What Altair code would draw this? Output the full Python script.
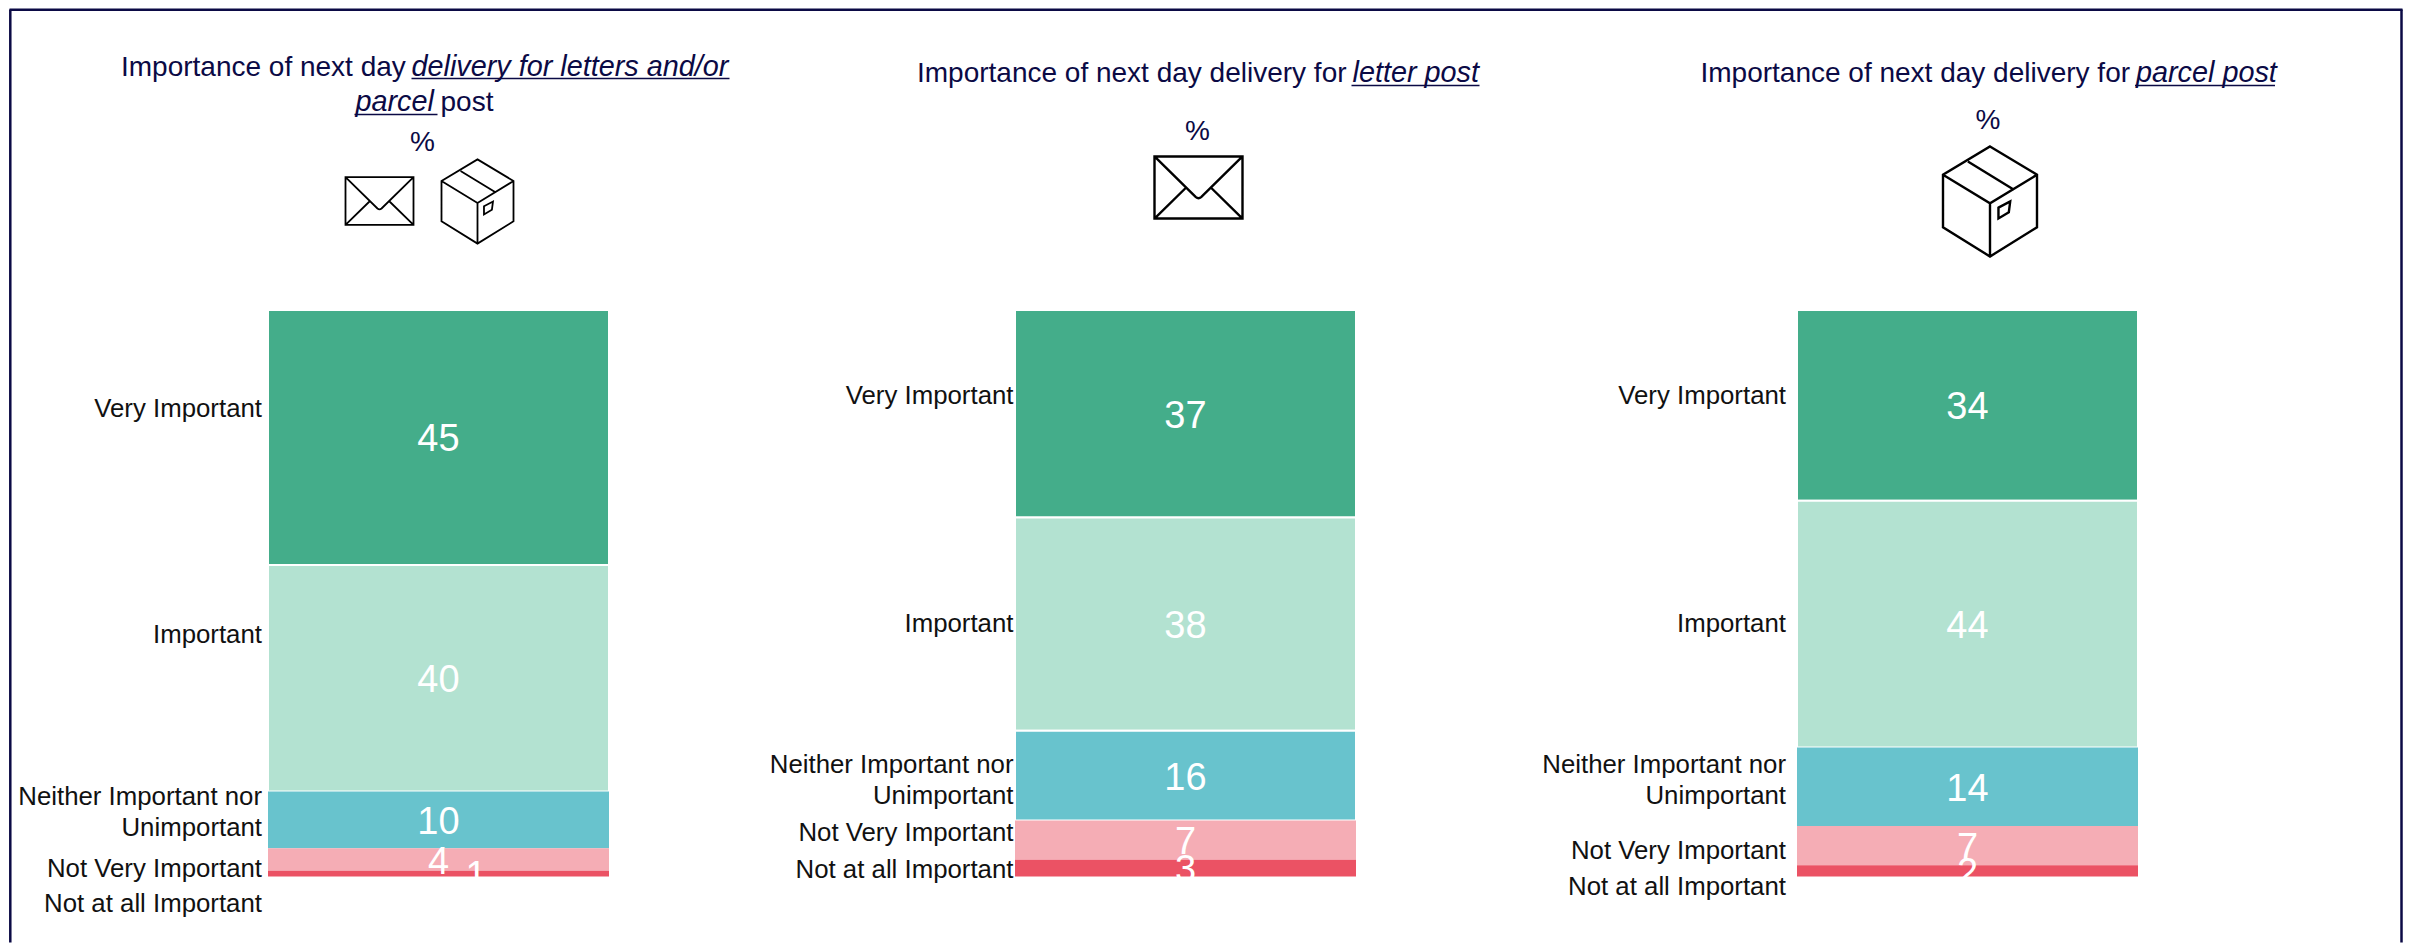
import altair as alt
import pandas as pd

# ---- chart values ----
CATEGORIES = ["Very Important", "Important", "Neither Important nor\nUnimportant",
              "Not Very Important", "Not at all Important"]
COLORS = ["#44ad8a", "#b3e2d1", "#68c3cd", "#f5adb5", "#eb5264"]
VALUES_ALL = [45, 40, 10, 4, 1]
VALUES_LETTER = [37, 38, 16, 7, 3]
VALUES_PARCEL = [34, 44, 14, 7, 2]
# where each category caption's first line sits, in the units of the panel's value axis
CAPTION_ALL = [17.4, 57.3, 86.0, 98.6, 104.8]
CAPTION_LETTER = [15.4, 55.9, 81.1, 93.3, 99.8]
CAPTION_PARCEL = [15.4, 55.9, 81.1, 96.5, 102.8]
# horizontal nudge of the value label, as a share of the bar width
NUDGE_ALL = [0, 0, 0, 0, 0.11]
NUDGE_NONE = [0, 0, 0, 0, 0]
OUTLINED = [2, 3, 2]

# ---- layout (absolute page pixels) ----
BAR_TOP = 309.5
BAR_W = 341
BAR_H = 566.5
BAR_LEFT = [267.5, 1014.5, 1796]
PANEL_W = [BAR_LEFT[1] - BAR_LEFT[0], BAR_LEFT[2] - BAR_LEFT[1], BAR_W]
CAPTION_GAP = [6, 1.5, 11]
NAVY = "#0b0a45"
FONT = "Liberation Sans"
TITLE_SIZE = 28
ITALIC_SIZE = 28.8


def blank():
    return alt.Chart(alt.Data(values=[{}]))


def txt(p, s, x, y, italic=False, align="left"):
    return blank().mark_text(
        text=s, font=FONT, fontSize=ITALIC_SIZE if italic else TITLE_SIZE, color=NAVY, align=align,
        baseline="alphabetic", fontStyle="italic" if italic else "normal",
    ).encode(x=alt.value(x - BAR_LEFT[p]), y=alt.value(y - BAR_TOP))


def underline(p, x0, x1, y):
    return blank().mark_rule(color=NAVY, strokeWidth=1.6).encode(
        x=alt.value(x0 - BAR_LEFT[p]), x2=alt.value(x1 - BAR_LEFT[p]), y=alt.value(y - BAR_TOP))


ENVELOPE = ("M-1 -0.705 L1 -0.705 L1 0.705 L-1 0.705 Z "
            "M-1 -0.705 L-0.06 0.22 Q0 0.27 0.06 0.22 L1 -0.705 "
            "M-1 0.705 L-0.28 0 M1 0.705 L0.28 0")
BOX = ("M0 -1.17 L1 -0.57 L1 0.55 L0 1.17 L-1 0.55 L-1 -0.57 Z "
       "M-1 -0.57 L0 0.04 L1 -0.57 M0 0.04 L0 1.17 "
       "M-0.47 -0.85 L0.51 -0.25 "
       "M0.18 0.13 L0.43 0 L0.40 0.23 L0.18 0.36 Z")


def icon(p, shape, cx, cy, half, sw):
    return blank().mark_point(
        shape=shape, size=(2 * half) ** 2, filled=False, stroke="black",
        strokeWidth=sw, opacity=1,
    ).encode(x=alt.value(cx - BAR_LEFT[p]), y=alt.value(cy - BAR_TOP))


def panel(p, values, captions, nudges, extras):
    total = sum(values)
    df = pd.DataFrame({
        "cat": CATEGORIES, "value": values, "rank": range(5),
        "caption": captions, "nudge": nudges, "color": COLORS,
    })
    base = alt.Chart(df).transform_stack(
        stack="value", groupby=[], sort=[alt.SortField("rank")], as_=["y0", "y1"],
    ).transform_calculate(
        mid="(datum.y0 + datum.y1) / 2", x0="0", x1="1", lx="0.5 + datum.nudge",
    )
    yscale = alt.Scale(domain=[0, total], reverse=True, nice=False, zero=False)
    # bar spans 0..1; the rest of the panel's width is the gap to the next panel
    xscale = alt.Scale(domain=[0, PANEL_W[p] / BAR_W], nice=False, zero=False)
    bars = base.mark_rect(strokeWidth=2).encode(
        x=alt.X("x0:Q", scale=xscale, axis=None),
        x2="x1:Q",
        y=alt.Y("y0:Q", scale=yscale, axis=None),
        y2="y1:Q",
        fill=alt.Fill("color:N", scale=None),
        stroke=alt.condition(f"datum.rank < {OUTLINED[p]}", alt.value("white"), alt.value("transparent")),
    )
    nums = base.mark_text(font=FONT, fontSize=38, color="white", align="center", baseline="middle", dy=3).encode(
        x=alt.X("lx:Q", scale=xscale, axis=None),
        y=alt.Y("mid:Q", scale=yscale, axis=None),
        text="value:Q",
    )
    caps = base.mark_text(font=FONT, fontSize=25.8, color="#111111", align="right", baseline="middle",
                          lineBreak="\n", lineHeight=31).encode(
        x=alt.value(-CAPTION_GAP[p]),
        y=alt.Y("caption:Q", scale=yscale, axis=None),
        text="cat:N",
    )
    return alt.layer(bars, nums, caps, *extras).properties(width=PANEL_W[p], height=BAR_H)


def vline(p, x):
    return blank().mark_rule(color=NAVY, strokeWidth=2.5).encode(
        x=alt.value(x - BAR_LEFT[p]), y=alt.value(8 - BAR_TOP + 1), y2=alt.value(942 - BAR_TOP))


frame = [
    vline(0, 9.8),
    blank().mark_rule(color=NAVY, strokeWidth=2.5).encode(
        x=alt.value(9 - BAR_LEFT[0]), x2=alt.value(2402 - BAR_LEFT[0]), y=alt.value(9.3 - BAR_TOP)),
    vline(0, 2401),
]

p1_extras = frame + [
    txt(0, "Importance of next day ", 120.5, 75),
    txt(0, "delivery for letters and/or", 411, 75, italic=True),
    underline(0, 411, 729, 78),
    txt(0, "parcel", 355, 110.7, italic=True),
    underline(0, 354, 437, 114),
    txt(0, "post", 440, 110.7),
    txt(0, "%", 422, 150, align="center"),
    icon(0, ENVELOPE, 379, 200.5, 34, 1.8),
    icon(0, BOX, 477, 201, 36, 1.8),
]
p2_extras = [
    txt(1, "Importance of next day delivery for ", 916.5, 81.7),
    txt(1, "letter post", 1352, 81.7, italic=True),
    underline(1, 1351, 1479, 85),
    txt(1, "%", 1197, 139, align="center"),
    icon(1, ENVELOPE, 1198, 187, 44, 2.4),
]
p3_extras = [
    txt(2, "Importance of next day delivery for ", 1699.5, 81.7),
    txt(2, "parcel post", 2135, 81.7, italic=True),
    underline(2, 2134, 2274, 85),
    txt(2, "%", 1987, 128, align="center"),
    icon(2, BOX, 1989, 201, 47, 2.4),
]

p1 = panel(0, VALUES_ALL, CAPTION_ALL, NUDGE_ALL, p1_extras)
p2 = panel(1, VALUES_LETTER, CAPTION_LETTER, NUDGE_NONE, p2_extras)
p3 = panel(2, VALUES_PARCEL, CAPTION_PARCEL, NUDGE_NONE, p3_extras)

chart = alt.hconcat(p1, p2, p3, spacing=0, bounds="flush").properties(
    padding=0, background="white",
).configure_view(stroke=None)

chart.save("out.html", embed_options={"renderer": "svg", "actions": False})
